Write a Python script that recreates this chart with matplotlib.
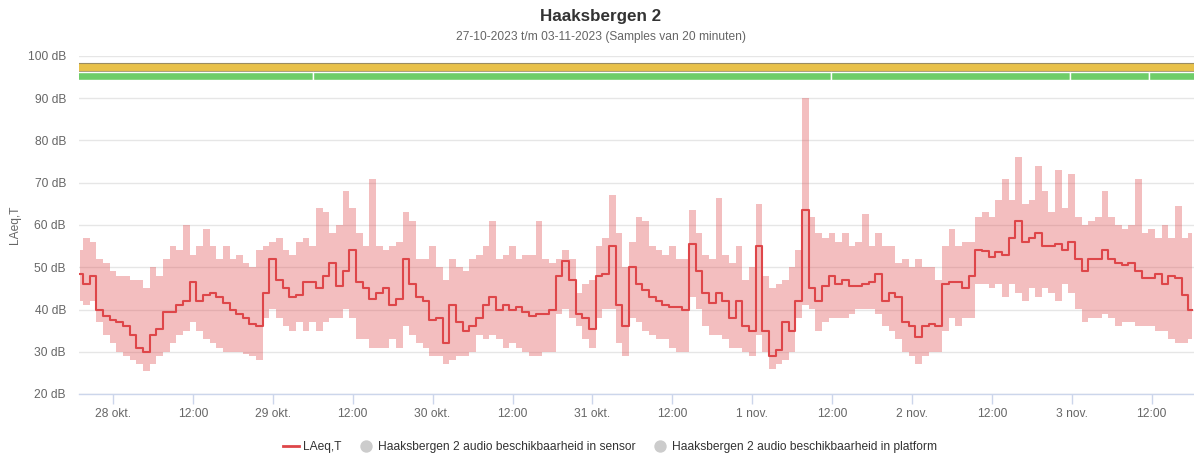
import numpy as np
import pandas as pd
import matplotlib
matplotlib.use("Agg")
import matplotlib.pyplot as plt
import matplotlib.dates as mdates
from matplotlib.lines import Line2D

plt.rcParams['font.family'] = ['Liberation Sans', 'DejaVu Sans']

# ---------------- data ----------------
title = "Haaksbergen 2"
subtitle = "27-10-2023 t/m 03-11-2023 (Samples van 20 minuten)"
y_label = "LAeq,T"
series_names = ["LAeq,T",
                "Haaksbergen 2 audio beschikbaarheid in sensor",
                "Haaksbergen 2 audio beschikbaarheid in platform"]

first_sample = "2023-10-27 19:00"   # hourly readings of the 20-min series

laeq = [48.3, 46, 48, 40, 38.5,
        37.5, 37, 36, 34, 31, 30, 34, 35.5, 39.5, 39.5,
        41, 42, 46.5, 42, 43.5, 44, 43, 41.5, 40, 39,
        38, 36.5, 36, 44, 52, 47, 45, 43, 43.5, 46.5,
        46.5, 45, 48, 51, 45.5, 49, 54, 46.5, 45, 42.5,
        44, 45, 41, 42.5, 52, 46, 43, 42, 37.5, 38,
        32, 41, 37, 35, 36,
        38, 41, 43, 40, 41,
        40, 40.5, 39.5, 38.5, 39, 39, 40, 48, 51.5, 47,
        39, 38, 35.5, 48, 48.5, 55, 41, 36, 50, 46,
        44.5, 43, 42, 41, 40.5, 40.5, 40, 55.5, 49, 44,
        41.5, 44, 42, 38, 42, 36, 35, 55, 35, 29,
        30.5, 37, 35, 42, 63.5, 45, 42, 45.5, 48, 46,
        47, 45.5, 45.5, 46, 46.5,
        48.5, 42, 44, 43, 37,
        36, 33.5, 36, 36.5, 36, 46, 46.5, 46.5, 45, 48,
        54, 53.8, 52.5, 53.5, 53, 57, 61, 56, 57, 58,
        55, 55, 55.5, 54, 56, 52, 49, 52, 52, 54,
        52, 51, 50.5, 51, 49, 47.5, 47.5, 48.5, 46, 48,
        47.5, 43.5, 40]

laeq_max = [54, 57, 56, 52, 51,
            49, 48, 48, 47, 47, 45, 50, 48, 52, 55,
            54, 60, 53, 55, 59, 55, 52, 55, 52, 53,
            51, 50, 54, 55, 56, 57, 54, 53, 56, 57,
            55, 64, 63, 58, 60, 68, 64, 58, 55, 71,
            55, 54, 55, 56, 63, 61, 52, 52, 55, 50,
            47, 52, 50, 49, 52,
            53, 55, 61, 52, 53,
            55, 52, 53, 53, 61, 52, 51, 52, 54, 52,
            44, 46, 47, 55, 57, 67, 58, 50, 56, 62,
            61, 55, 54, 53, 55, 52, 52, 63.5, 58, 53,
            52, 66.5, 53, 51, 55, 47, 50, 65, 48, 45,
            46, 47, 50, 54, 90, 62, 58, 57, 58, 56,
            58, 55, 56, 62.5, 55,
            58, 55, 55, 51, 52,
            50, 52, 50, 50, 47, 55, 59, 55, 56, 56,
            62, 63, 62, 66, 71, 66, 76, 65, 66, 74,
            68, 63, 73, 64, 72, 62, 60, 61, 62, 68,
            62, 60, 59, 60, 71, 58, 59, 57, 60, 57,
            64.5, 57, 58]

laeq_min = [42, 41, 42, 37, 34,
            32, 30, 29, 28, 27, 25.5, 27, 29, 30, 32,
            34, 35, 37, 35, 33, 32, 31, 30, 30, 30,
            29.5, 29, 28, 38, 40, 38, 36, 35, 37, 35,
            37, 35, 37, 38, 38, 40, 38, 33, 33, 31,
            31, 31, 33, 31, 36, 34, 32, 31, 29, 29,
            27, 28, 29, 29, 30,
            34, 33, 34, 33, 31,
            32, 31, 30, 29, 29, 30, 30, 39, 40, 38,
            36, 33, 31, 38, 40, 40, 32, 29, 38, 37,
            35, 34, 33, 33, 31, 30, 30, 43, 40, 36,
            34, 34, 33, 31, 31, 30, 29, 34, 30, 26,
            27, 28, 30, 38, 41, 40, 35, 37, 38, 38,
            38, 39, 40, 40, 40,
            39, 36, 35, 33, 30,
            29, 27, 29, 30, 30, 35, 38, 36, 38, 38,
            46, 46, 45, 46, 43, 46, 44, 42, 45, 43,
            45, 44, 42, 46, 44, 40, 37, 38, 38, 39,
            38, 36, 37, 37, 36, 36, 36, 35, 35, 33,
            32, 32, 33]

sensor_segments = [("2023-10-27 18:40", "2023-11-03 19:00")]
platform_segments = [("2023-10-27 18:40", "2023-10-29 06:00"),
                     ("2023-10-29 06:00", "2023-11-01 11:50"),
                     ("2023-11-01 11:50", "2023-11-02 23:40"),
                     ("2023-11-02 23:40", "2023-11-03 11:40"),
                     ("2023-11-03 11:40", "2023-11-03 19:00")]

x_ticks = pd.date_range("2023-10-28 00:00", "2023-11-03 12:00", freq="12h")
x_tick_labels = ["28 okt.", "12:00", "29 okt.", "12:00", "30 okt.", "12:00",
                 "31 okt.", "12:00", "1 nov.", "12:00", "2 nov.", "12:00",
                 "3 nov.", "12:00"]
y_ticks = [20, 30, 40, 50, 60, 70, 80, 90, 100]
y_tick_labels = [f"{v} dB" for v in y_ticks]

# ---------------- style ----------------
RED = "#de4649"
YELLOW = "#e8c14a"
GREEN = "#6fcd69"
GRID = "#e6e6e6"
AXIS = "#ccd6eb"
LABEL = "#666666"

W, H = 1194, 459
fig = plt.figure(figsize=(W / 100, H / 100), dpi=100)
px = lambda v: v * 72 / 100  # pixels -> points

left, right, top, bottom = 79, 1194, 56, 394
ax = fig.add_axes([left / W, 1 - bottom / H, (right - left) / W, (bottom - top) / H])

times = pd.date_range(first_sample, periods=len(laeq), freq="h")

ax.fill_between(times, laeq_min, laeq_max, step="mid", color=RED, alpha=0.35,
                linewidth=0, zorder=2)
ax.plot(times, laeq, drawstyle="steps-mid", color=RED, lw=1.5, zorder=3)

def bars(segs, y0, h, fc, ec, lw):
    xr = []
    for s, e in segs:
        a = mdates.date2num(pd.Timestamp(s))
        b = mdates.date2num(pd.Timestamp(e))
        xr.append((a, b - a))
    ax.broken_barh(xr, (y0, h), facecolors=fc, edgecolors=ec, linewidth=lw, zorder=4)

bars(sensor_segments, 96.5, 1.82, YELLOW, "#9a8c62", 0.8)
bars(platform_segments, 94.32, 1.82, GREEN, "white", 1.0)

x0 = pd.Timestamp("2023-10-28 00:00") - pd.Timedelta(days=(113 - left) / 159.8)
x1 = x0 + pd.Timedelta(days=(right - left) / 159.8)
ax.set_xlim(x0, x1)
ax.set_ylim(20, 100)

ax.set_yticks(y_ticks)
ax.set_yticklabels(y_tick_labels)
ax.set_xticks(x_ticks)
ax.set_xticklabels(x_tick_labels)

ax.yaxis.grid(True, color=GRID, lw=1)
ax.set_axisbelow(True)
for s in ["top", "right", "left"]:
    ax.spines[s].set_visible(False)
ax.spines["bottom"].set_color(AXIS)
ax.spines["bottom"].set_linewidth(1)
ax.spines["bottom"].set_zorder(5)

ax.tick_params(axis="y", length=0, pad=px(13), labelsize=px(12), labelcolor=LABEL)
ax.tick_params(axis="x", length=px(10), width=1, color=AXIS, pad=px(4),
               labelsize=px(12), labelcolor=LABEL)

fig.text(601 / W, 1 - 16.5 / H, title, ha="center", va="center",
         fontsize=px(17), fontweight="bold", color="#333333")
fig.text(601 / W, 1 - 37 / H, subtitle, ha="center", va="center",
         fontsize=px(12), color=LABEL)
fig.text(15 / W, 1 - 225 / H, y_label, ha="center", va="center",
         rotation=90, fontsize=px(12), color=LABEL)

handles = [Line2D([], [], color=RED, lw=2),
           Line2D([], [], marker="o", ls="", markersize=px(11), color="#cccccc"),
           Line2D([], [], marker="o", ls="", markersize=px(11), color="#cccccc")]
fig.legend(handles, series_names, loc="center", bbox_to_anchor=(610 / W, 1 - 447 / H),
           ncol=3, frameon=False, fontsize=px(12), handlelength=1.3,
           handletextpad=0.35, columnspacing=1.4, labelcolor="#333333",
           borderpad=0, borderaxespad=0)

fig.savefig("out.png", dpi=100)
